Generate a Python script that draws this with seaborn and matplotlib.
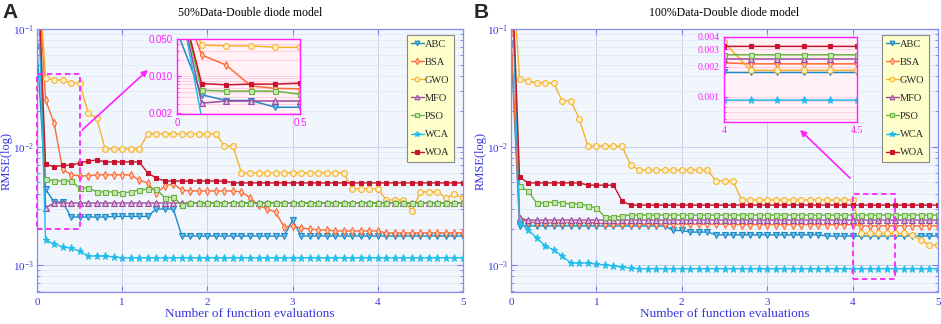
import numpy as np
import pandas as pd
import matplotlib
matplotlib.use("Agg")
import matplotlib.pyplot as plt
import seaborn as sns
from matplotlib.patches import Rectangle
from matplotlib.ticker import LogLocator, NullFormatter, FixedLocator, FixedFormatter

sns.set_style("ticks")
plt.rcParams["font.family"] = ["Liberation Serif", "DejaVu Serif"]
plt.rcParams["mathtext.fontset"] = "stix"

# data, x = 0, 0.1, ..., 5
evals = np.linspace(0, 5, 51)
algos = ["ABC", "BSA", "GWO", "MFO", "PSO", "WCA", "WOA"]

# 50% data
abc_50 = [0.07, 0.0044, 0.00342, 0.00342] + [0.00255] * 5 + [0.00258] * 5 + [0.00298] * 3 \
    + [0.00176] * 13 + [0.0024] + [0.00176] * 20
bsa_50 = [0.5, 0.025, 0.016, 0.0065, 0.0058, 0.0057, 0.0057, 0.0058, 0.0058, 0.0058, 0.0058,
          0.0058, 0.00525, 0.00495, 0.00407, 0.00467, 0.00486, 0.00432] + [0.00424] * 6 \
    + [0.00416, 0.0037, 0.00322, 0.00298, 0.00281, 0.0021, 0.00214, 0.00206, 0.00202,
       0.00198, 0.00198, 0.00194] + [0.00194] * 5 + [0.00187] * 10
gwo_50 = [0.5, 0.0385, 0.037, 0.037, 0.0348, 0.0348, 0.0194, 0.0176] + [0.0096] * 5 \
    + [0.0129] * 9 + [0.0102] * 2 + [0.00602] * 13 + [0.00441] * 4 + [0.00356] * 3 \
    + [0.00287] + [0.00416] * 3 + [0.0037, 0.0040, 0.0037]
mfo_50 = [0.5, 0.00304] + [0.00335] * 49
pso_50 = [0.5, 0.00536, 0.00515, 0.00515, 0.00515, 0.0045, 0.0045, 0.00416, 0.00416, 0.00416,
          0.00407, 0.00416, 0.00432, 0.0044, 0.0044, 0.0037, 0.00377, 0.00322] + [0.00335] * 33
wca_50 = [0.5, 0.00163, 0.00151, 0.00142, 0.00139, 0.00131, 0.00119, 0.00119, 0.00119,
          0.00117] + [0.00115] * 41
woa_50 = [0.5, 0.00718, 0.00678, 0.0070, 0.0070, 0.00731, 0.0076, 0.00775] + [0.00747] * 5 \
    + [0.00602, 0.00546] + [0.00515] * 8 + [0.00496] * 28

# 100% data
abc_100 = [0.075] + [0.00214] * 18 + [0.00196] * 2 + [0.0019] * 3 + [0.0018] * 13 + [0.00176] * 14
bsa_100 = [0.092, 0.00245, 0.00232] + [0.00228] * 8 + [0.00222] * 15 + [0.0022] * 15 + [0.00215] * 10
gwo_100 = [0.5, 0.0377, 0.0362] + [0.0348] * 3 + [0.0246] * 2 + [0.0173] + [0.0102] * 5 \
    + [0.00703] + [0.0064] * 9 + [0.00515] * 3 + [0.00356] * 14 + [0.00185] * 6 \
    + [0.0018, 0.00163, 0.00148, 0.00148]
mfo_100 = [0.5, 0.0025] + [0.0024] * 49
pso_100 = [0.5, 0.00467, 0.00424, 0.00335, 0.00335, 0.00342, 0.00335, 0.00329, 0.00329,
           0.00316, 0.00304, 0.00255, 0.00255, 0.0026] + [0.00265] * 37
wca_100 = [0.5, 0.00229, 0.00198, 0.0017, 0.00145, 0.00134, 0.00119, 0.00104, 0.00104,
           0.00104, 0.00102, 0.001, 0.00098, 0.00096, 0.00094] + [0.00093] * 36
woa_100 = [0.5, 0.00557] + [0.00496] * 7 + [0.00475] * 4 + [0.00348] + [0.00322] * 37

df50 = pd.DataFrame(dict(evals=evals, ABC=abc_50, BSA=bsa_50, GWO=gwo_50, MFO=mfo_50,
                         PSO=pso_50, WCA=wca_50, WOA=woa_50))
df100 = pd.DataFrame(dict(evals=evals, ABC=abc_100, BSA=bsa_100, GWO=gwo_100, MFO=mfo_100,
                          PSO=pso_100, WCA=wca_100, WOA=woa_100))

colors = {"ABC": "#1b8bc8", "BSA": "#ff6a33", "GWO": "#f6b22c", "MFO": "#9c4a9e",
          "PSO": "#69b33e", "WCA": "#22bdea", "WOA": "#c8142f"}
faces = {"ABC": "#6fb9e3", "BSA": "#ffd0bb", "GWO": "#fdf0cc", "MFO": "#d9b6db",
         "PSO": "#c6e7b2", "WCA": "#22bdea", "WOA": "#c8142f"}
markers = {"ABC": "v", "BSA": "d", "GWO": "o", "MFO": "^", "PSO": "s", "WCA": "*", "WOA": "s"}
msizes = {"ABC": 4.2, "BSA": 4.2, "GWO": 4.2, "MFO": 4.2, "PSO": 3.6, "WCA": 5.2, "WOA": 2.8}

BLUE = "#3535e0"
MAG = "#ff22ff"


def draw_lines(ax, df, lw=1.0):
    for a in algos:
        sns.lineplot(data=df, x="evals", y=a, ax=ax, color=colors[a], marker=markers[a],
                     markersize=msizes[a], markerfacecolor=faces[a], markeredgecolor=colors[a],
                     markeredgewidth=0.8, linewidth=lw, label=a, legend=False)


def style_main(ax, title):
    ax.set_yscale("log")
    ax.set_xlim(0, 5)
    ax.set_ylim(5.9e-4, 0.1)
    ax.set_facecolor("#f1f6fc")
    ax.set_axisbelow(True)
    ax.grid(True, which="major", color="#c9d0ee", lw=0.7)
    ax.grid(True, which="minor", axis="y", color="#dfe6f4", lw=0.5)
    for s in ax.spines.values():
        s.set_color("#8a8af0")
        s.set_linewidth(0.9)
    ax.set_xticks(range(6))
    ax.set_yticks([1e-3, 1e-2, 1e-1])
    ax.yaxis.set_minor_locator(LogLocator(base=10, subs=np.arange(2, 10)))
    ax.yaxis.set_minor_formatter(NullFormatter())
    ax.tick_params(which="both", direction="in", top=True, right=True, colors="#7b7bf0",
                   labelcolor=BLUE, labelsize=8, pad=4)
    ax.tick_params(axis="y", pad=2)
    ax.tick_params(which="major", length=4)
    ax.tick_params(which="minor", length=2)
    ax.set_xlabel("Number of function evaluations", color=BLUE, fontsize=9.5, labelpad=1)
    ax.set_ylabel("RMSE(log)", color=BLUE, fontsize=9, labelpad=0)
    ax.set_title(title, fontsize=8.5, color="black", pad=9)
    h, l = ax.get_legend_handles_labels()
    leg = ax.legend(h[:7], l[:7], loc="upper right", bbox_to_anchor=(0.978, 0.977),
                    borderaxespad=0, fontsize=7.5, labelspacing=0.85, handlelength=1.25,
                    handletextpad=0.1, borderpad=0.4, fancybox=False, framealpha=1,
                    facecolor="#ffffcc", edgecolor="#888888", markerscale=0.8)
    leg.get_frame().set_linewidth(0.8)


def make_inset(ax, df, xlim, ylim, xt, xtl, yt, ytl, family):
    ax.set_yscale("log")
    draw_lines(ax, df, lw=1.1)
    ax.set_xlim(*xlim)
    ax.set_ylim(*ylim)
    ax.set_facecolor("#fff1f6")
    ax.set_axisbelow(True)
    ax.yaxis.set_major_locator(FixedLocator(yt))
    ax.yaxis.set_major_formatter(FixedFormatter(ytl))
    ax.yaxis.set_minor_locator(LogLocator(base=10, subs=np.arange(2, 10)))
    ax.yaxis.set_minor_formatter(NullFormatter())
    ax.xaxis.set_major_locator(FixedLocator(xt))
    ax.xaxis.set_major_formatter(FixedFormatter(xtl))
    ax.grid(True, which="both", axis="y", color="#ffc9e2", lw=0.6)
    for s in ax.spines.values():
        s.set_color(MAG)
        s.set_linewidth(1.0)
    ax.tick_params(which="both", direction="in", colors=MAG, labelcolor=MAG, labelsize=7, pad=3)
    ax.tick_params(which="major", length=3)
    ax.tick_params(which="minor", length=1.5)
    for t in ax.get_xticklabels() + ax.get_yticklabels():
        t.set_family(family)
    ax.set_xlabel("")
    ax.set_ylabel("")


fig = plt.figure(figsize=(9.41, 3.24), dpi=100)

# panel A
axA = fig.add_axes([37 / 941, 32 / 324, 426 / 941, 263 / 324])
draw_lines(axA, df50)
style_main(axA, "50%Data-Double diode model")
axA.add_patch(Rectangle((0, 0.00202), 0.5, 0.0416 - 0.00202, fill=False, ec=MAG, lw=1.3,
                        ls=(0, (3, 2)), clip_on=False, zorder=5))

insA = fig.add_axes([177 / 941, (324 - 114) / 324, 123 / 941, 75 / 324])
make_inset(insA, df50, (0, 0.5), (0.0019, 0.05), [0, 0.5], ["0", "0.5"],
           [0.002, 0.01, 0.05], ["0.002", "0.010", "0.050"], "Liberation Sans")

# panel B
axB = fig.add_axes([511 / 941, 32 / 324, 427 / 941, 263 / 324])
draw_lines(axB, df100)
style_main(axB, "100%Data-Double diode model")
axB.add_patch(Rectangle((4, 0.00076), 0.5, 0.0040 - 0.00076, fill=False, ec=MAG, lw=1.3,
                        ls=(0, (3, 2)), clip_on=False, zorder=5))

insB = fig.add_axes([724 / 941, (324 - 122) / 324, 133 / 941, 85 / 324])
make_inset(insB, df100, (4, 4.5), (0.00056, 0.004), [4, 4.5], ["4", "4.5"],
           [0.001, 0.002, 0.003, 0.004], ["0.001", "0.002", "0.003", "0.004"], "Liberation Serif")

# arrows from zoom boxes to insets
arrow = dict(arrowstyle="-|>", color=MAG, lw=1.2, mutation_scale=9)
axA.annotate("", xy=(150, 256), xytext=(80, 192), xycoords="figure pixels",
             textcoords="figure pixels", arrowprops=arrow)
axB.annotate("", xy=(798, 196), xytext=(852, 144), xycoords="figure pixels",
             textcoords="figure pixels", arrowprops=arrow)

fig.text(2 / 941, 1 - 12 / 324, "A", fontsize=15, fontweight="bold", family="Liberation Sans",
         va="center", ha="left")
fig.text(474 / 941, 1 - 12 / 324, "B", fontsize=15, fontweight="bold", family="Liberation Sans",
         va="center", ha="left")

fig.savefig("out.png", dpi=100)
